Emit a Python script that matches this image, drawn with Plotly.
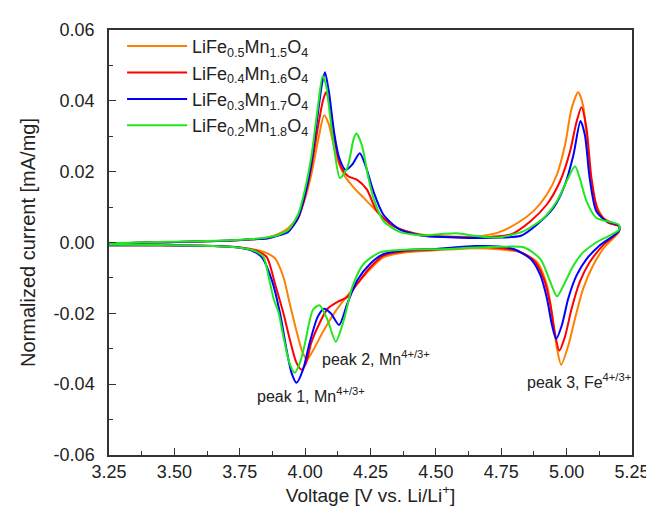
import plotly.graph_objects as go

# ---------------- data ----------------
names = ["LiFe<sub>0.5</sub>Mn<sub>1.5</sub>O<sub>4</sub>",
         "LiFe<sub>0.4</sub>Mn<sub>1.6</sub>O<sub>4</sub>",
         "LiFe<sub>0.3</sub>Mn<sub>1.7</sub>O<sub>4</sub>",
         "LiFe<sub>0.2</sub>Mn<sub>1.8</sub>O<sub>4</sub>"]
colors = ["#FF8000", "#FF0000", "#0000FF", "#1FE81F"]

# anodic (upper) branches, ascending voltage
orange_up_v = [3.25, 3.40, 3.55, 3.70, 3.80, 3.86, 3.90, 3.935, 3.973, 3.998, 4.023, 4.050, 4.073, 4.090, 4.117, 4.148, 4.186, 4.224, 4.261, 4.299, 4.361, 4.45, 4.55, 4.65, 4.737, 4.812, 4.875, 4.925, 4.963, 4.994, 5.019, 5.044, 5.063, 5.082, 5.101, 5.138, 5.200]
orange_up_i = [-0.0003, 0.0000, 0.0002, 0.0005, 0.0009, 0.0015, 0.0025, 0.0040, 0.0075, 0.0120, 0.0190, 0.0290, 0.0359, 0.0335, 0.0250, 0.0192, 0.0155, 0.0126, 0.0098, 0.0070, 0.0038, 0.0022, 0.0017, 0.0017, 0.0028, 0.0055, 0.0090, 0.0136, 0.0192, 0.0276, 0.0378, 0.0424, 0.0387, 0.0257, 0.0136, 0.0071, 0.0045]
red_up_v = [3.25, 3.40, 3.55, 3.70, 3.80, 3.86, 3.90, 3.935, 3.973, 3.998, 4.023, 4.050, 4.068, 4.080, 4.095, 4.115, 4.136, 4.165, 4.199, 4.236, 4.274, 4.336, 4.45, 4.55, 4.65, 4.787, 4.863, 4.925, 4.975, 5.013, 5.038, 5.057, 5.076, 5.095, 5.120, 5.160, 5.200]
red_up_i = [-0.0003, 0.0000, 0.0002, 0.0005, 0.0009, 0.0013, 0.0022, 0.0032, 0.0068, 0.0125, 0.0210, 0.0330, 0.0400, 0.0424, 0.0385, 0.0280, 0.0215, 0.0187, 0.0177, 0.0150, 0.0089, 0.0047, 0.0020, 0.0016, 0.0014, 0.0023, 0.0061, 0.0108, 0.0173, 0.0257, 0.0341, 0.0382, 0.0322, 0.0182, 0.0089, 0.0055, 0.0046]
blue_up_v = [3.25, 3.40, 3.55, 3.70, 3.80, 3.86, 3.90, 3.935, 3.973, 3.998, 4.023, 4.048, 4.065, 4.076, 4.092, 4.111, 4.130, 4.155, 4.180, 4.209, 4.232, 4.261, 4.299, 4.361, 4.449, 4.55, 4.65, 4.75, 4.825, 4.887, 4.950, 4.994, 5.026, 5.053, 5.070, 5.088, 5.113, 5.150, 5.200]
blue_up_i = [-0.0003, 0.0000, 0.0002, 0.0005, 0.0009, 0.0012, 0.0020, 0.0030, 0.0070, 0.0130, 0.0220, 0.0360, 0.0450, 0.0481, 0.0420, 0.0310, 0.0240, 0.0205, 0.0220, 0.0252, 0.0215, 0.0145, 0.0079, 0.0037, 0.0019, 0.0015, 0.0013, 0.0014, 0.0019, 0.0051, 0.0098, 0.0164, 0.0247, 0.0343, 0.0303, 0.0182, 0.0089, 0.0061, 0.0048]
green_up_v = [3.25, 3.40, 3.55, 3.70, 3.80, 3.86, 3.90, 3.935, 3.973, 3.998, 4.023, 4.048, 4.067, 4.080, 4.092, 4.111, 4.133, 4.161, 4.186, 4.196, 4.217, 4.242, 4.261, 4.299, 4.361, 4.449, 4.52, 4.58, 4.65, 4.737, 4.838, 4.913, 4.963, 5.000, 5.032, 5.050, 5.076, 5.113, 5.200]
green_up_i = [-0.0002, 0.0001, 0.0003, 0.0006, 0.0010, 0.0015, 0.0022, 0.0035, 0.0079, 0.0145, 0.0238, 0.0378, 0.0470, 0.0445, 0.0378, 0.0266, 0.0182, 0.0210, 0.0294, 0.0308, 0.0275, 0.0182, 0.0126, 0.0061, 0.0030, 0.0020, 0.0024, 0.0026, 0.0019, 0.0014, 0.0033, 0.0070, 0.0117, 0.0173, 0.0215, 0.0182, 0.0117, 0.0070, 0.0050]

# cathodic (lower) branches, ascending voltage
orange_lo_v = [3.25, 3.45, 3.65, 3.75, 3.82, 3.86, 3.885, 3.917, 3.942, 3.967, 3.990, 4.008, 4.030, 4.070, 4.111, 4.148, 4.199, 4.249, 4.299, 4.38, 4.50, 4.65, 4.75, 4.825, 4.888, 4.925, 4.947, 4.963, 4.979, 5.007, 5.032, 5.063, 5.101, 5.144, 5.200]
orange_lo_i = [-0.0008, -0.0008, -0.0010, -0.0014, -0.0022, -0.0032, -0.0045, -0.0098, -0.0175, -0.0250, -0.0310, -0.0330, -0.0305, -0.0250, -0.0200, -0.0163, -0.0117, -0.0075, -0.0042, -0.0028, -0.0022, -0.0016, -0.0020, -0.0028, -0.0056, -0.0121, -0.0215, -0.0298, -0.0345, -0.0289, -0.0215, -0.0131, -0.0065, -0.0014, 0.0030]
red_lo_v = [3.25, 3.45, 3.65, 3.75, 3.82, 3.854, 3.885, 3.917, 3.942, 3.967, 3.986, 4.004, 4.023, 4.055, 4.086, 4.123, 4.161, 4.199, 4.249, 4.299, 4.38, 4.50, 4.65, 4.75, 4.812, 4.875, 4.913, 4.938, 4.954, 4.972, 4.994, 5.019, 5.050, 5.088, 5.138, 5.200]
red_lo_i = [-0.0008, -0.0008, -0.0010, -0.0014, -0.0025, -0.0042, -0.0117, -0.0200, -0.0275, -0.0340, -0.0359, -0.0340, -0.0284, -0.0228, -0.0187, -0.0168, -0.0154, -0.0117, -0.0070, -0.0037, -0.0025, -0.0020, -0.0012, -0.0016, -0.0023, -0.0051, -0.0103, -0.0177, -0.0252, -0.0305, -0.0265, -0.0187, -0.0112, -0.0056, -0.0009, 0.0032]
blue_lo_v = [3.25, 3.45, 3.65, 3.75, 3.80, 3.835, 3.873, 3.904, 3.929, 3.948, 3.967, 3.992, 4.017, 4.048, 4.073, 4.098, 4.130, 4.161, 4.199, 4.249, 4.299, 4.38, 4.50, 4.65, 4.75, 4.800, 4.863, 4.900, 4.925, 4.944, 4.960, 4.982, 5.006, 5.038, 5.076, 5.125, 5.200]
blue_lo_i = [-0.0008, -0.0008, -0.0010, -0.0015, -0.0024, -0.0042, -0.0107, -0.0200, -0.0303, -0.0368, -0.0396, -0.0359, -0.0284, -0.0210, -0.0187, -0.0200, -0.0233, -0.0173, -0.0107, -0.0060, -0.0033, -0.0022, -0.0018, -0.0010, -0.0012, -0.0019, -0.0047, -0.0093, -0.0159, -0.0233, -0.0272, -0.0233, -0.0159, -0.0093, -0.0047, -0.0009, 0.0032]
green_lo_v = [3.25, 3.45, 3.65, 3.75, 3.80, 3.84, 3.86, 3.88, 3.898, 3.917, 3.940, 3.960, 3.980, 3.998, 4.030, 4.055, 4.086, 4.117, 4.148, 4.180, 4.224, 4.286, 4.40, 4.524, 4.65, 4.75, 4.838, 4.900, 4.938, 4.963, 4.994, 5.026, 5.063, 5.113, 5.200]
green_lo_i = [-0.0006, -0.0007, -0.0010, -0.0015, -0.0022, -0.0040, -0.0095, -0.0160, -0.0196, -0.0266, -0.0340, -0.0368, -0.0340, -0.0290, -0.0190, -0.0177, -0.0219, -0.0280, -0.0219, -0.0126, -0.0060, -0.0028, -0.0020, -0.0019, -0.0014, -0.0012, -0.0014, -0.0047, -0.0112, -0.0152, -0.0112, -0.0065, -0.0028, 0.0000, 0.0035]

x_ticks = [3.25, 3.50, 3.75, 4.00, 4.25, 4.50, 4.75, 5.00, 5.25]
y_ticks = [-0.06, -0.04, -0.02, 0.00, 0.02, 0.04, 0.06]

peak_labels = ["peak 1, Mn<sup>4+/3+</sup>", "peak 2, Mn<sup>4+/3+</sup>", "peak 3, Fe<sup>4+/3+</sup>"]
peak_label_v = [3.81, 4.058, 4.842]
peak_label_i = [-0.0430, -0.0326, -0.0390]

series = [
    (orange_up_v, orange_up_i, orange_lo_v, orange_lo_i),
    (red_up_v, red_up_i, red_lo_v, red_lo_i),
    (blue_up_v, blue_up_i, blue_lo_v, blue_lo_i),
    (green_up_v, green_up_i, green_lo_v, green_lo_i),
]

FONT = "Liberation Sans, Arial, sans-serif"
TXT = "#222222"
fig = go.Figure()
for (uv, ui, lv, li), name, col in zip(series, names, colors):
    xs = list(uv) + list(reversed(lv))
    ys = list(ui) + list(reversed(li))
    fig.add_trace(go.Scatter(x=xs, y=ys, mode="lines", name=name,
                             line=dict(color=col, width=2, shape="spline", smoothing=0.7)))

for txt, v, i in zip(peak_labels, peak_label_v, peak_label_i):
    fig.add_annotation(x=v, y=i, text=txt, showarrow=False, xanchor="left", yanchor="middle",
                       font=dict(family=FONT, size=16, color=TXT))

axis_common = dict(showline=True, linecolor="#333333", linewidth=1.5, mirror=True,
                   ticks="inside", ticklen=7, tickwidth=1.3, tickcolor="#333333",
                   showgrid=False, zeroline=False,
                   tickfont=dict(family=FONT, size=18, color=TXT),
                   minor=dict(ticks="inside", ticklen=4, tickwidth=1.2, tickcolor="#333333"))

fig.update_xaxes(range=[3.25, 5.25], tickvals=x_ticks, ticktext=[f"{t:.2f}" for t in x_ticks],
                 title=dict(text="Voltage [V vs. Li/Li<sup>+</sup>]", font=dict(family=FONT, size=19, color=TXT), standoff=1),
                 **axis_common)
fig.update_xaxes(minor=dict(dtick=0.125, tick0=3.25))
fig.update_yaxes(range=[-0.06, 0.06], tickvals=y_ticks, ticktext=[f"{t:.2f}" for t in y_ticks],
                 ticklabelstandoff=9,
                 title=dict(text="Normalized current [mA/mg]", font=dict(family=FONT, size=20, color=TXT), standoff=13),
                 **axis_common)
fig.update_yaxes(minor=dict(dtick=0.01, tick0=-0.06))

fig.update_layout(
    width=654, height=508,
    margin=dict(l=101, r=21, t=21, b=61),
    paper_bgcolor="white", plot_bgcolor="white",
    font=dict(family=FONT, color=TXT),
    legend=dict(x=0.025, y=1.005, xanchor="left", yanchor="top", bgcolor="rgba(0,0,0,0)",
                font=dict(family=FONT, size=18, color=TXT), itemwidth=60,
                tracegroupgap=0),
    showlegend=True,
)

fig.write_html("out.html")
